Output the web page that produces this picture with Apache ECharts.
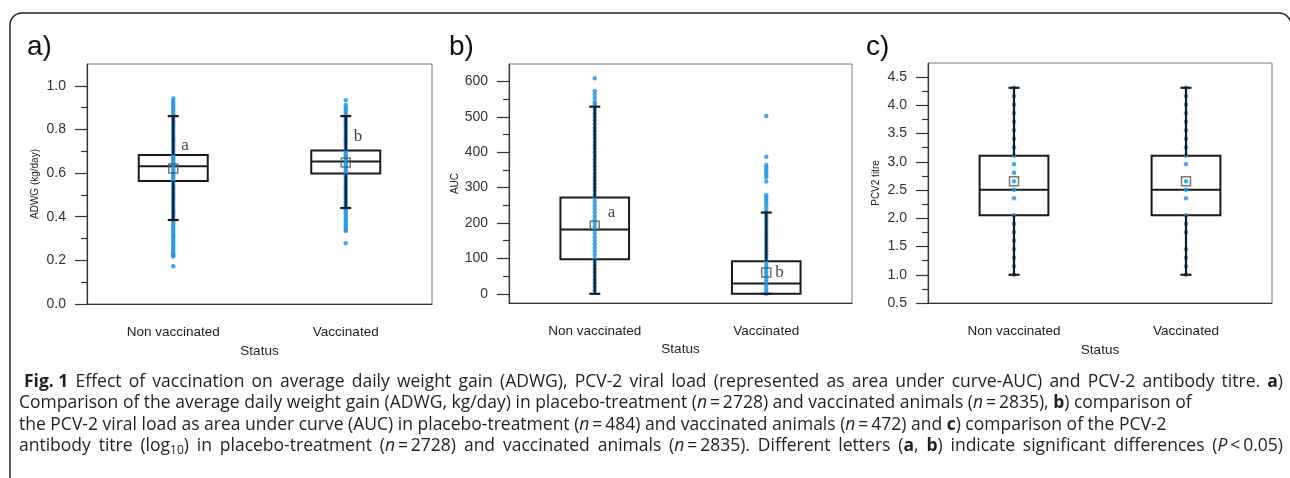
<!DOCTYPE html>
<html>
<head>
<meta charset="utf-8">
<script src="https://cdn.jsdelivr.net/npm/echarts@6/dist/echarts.min.js"></script>
<style>
html,body{margin:0;padding:0;background:#fff;}
#chart{width:1290px;height:478px;}
</style>
</head>
<body>
<div id="chart"></div>
<script>
// ---------------- DATA ----------------
const categories = ['Non vaccinated', 'Vaccinated'];

// Panel a: ADWG (kg/day)  [lowerWhisker, Q1, median, Q3, upperWhisker]
const adwgBox = [[0.385, 0.564, 0.631, 0.683, 0.861], [0.440, 0.598, 0.653, 0.703, 0.861]];
const adwgMean = [0.621, 0.648];
const adwgDotsNon = [0.173, 0.218, 0.224, 0.23, 0.24, 0.25, 0.26, 0.27, 0.28, 0.29, 0.30, 0.31, 0.32, 0.33, 0.34, 0.35, 0.36, 0.37, 0.38, 0.39, 0.40, 0.41, 0.42, 0.43, 0.44, 0.45, 0.46, 0.47, 0.48, 0.49, 0.50, 0.51, 0.52, 0.53, 0.54, 0.55, 0.56, 0.57, 0.58, 0.59, 0.60, 0.61, 0.62, 0.63, 0.64, 0.65, 0.66, 0.67, 0.68, 0.69, 0.70, 0.71, 0.72, 0.73, 0.74, 0.75, 0.76, 0.77, 0.78, 0.79, 0.80, 0.81, 0.82, 0.83, 0.84, 0.85, 0.86, 0.87, 0.88, 0.89, 0.90, 0.91, 0.92, 0.93, 0.942];
const adwgDotsVac = [0.278, 0.335, 0.34, 0.35, 0.36, 0.37, 0.38, 0.39, 0.40, 0.41, 0.42, 0.43, 0.44, 0.45, 0.46, 0.47, 0.48, 0.49, 0.50, 0.51, 0.52, 0.53, 0.54, 0.55, 0.56, 0.57, 0.58, 0.59, 0.60, 0.61, 0.62, 0.63, 0.64, 0.65, 0.66, 0.67, 0.68, 0.69, 0.70, 0.71, 0.72, 0.73, 0.74, 0.75, 0.76, 0.77, 0.78, 0.79, 0.80, 0.81, 0.82, 0.83, 0.84, 0.85, 0.86, 0.87, 0.88, 0.89, 0.90, 0.912, 0.934];
const adwgLetters = ['a', 'b'];
const adwgLetterY = [0.726, 0.768];
const adwgTicks = [0, 0.2, 0.4, 0.6, 0.8, 1.0];
const adwgMinor = [0.1, 0.3, 0.5, 0.7, 0.9];

// Panel b: AUC
const aucBox = [[0, 97.8, 181.5, 272, 528.5], [0, 0, 29, 92, 229.5]];
const aucMean = [192, 60];
const aucDotsNon = [10, 20, 30, 40, 50, 60, 70, 80, 90, 100, 110, 120, 130, 140, 150, 160, 170, 180, 190, 200, 210, 220, 230, 240, 250, 260, 270, 280, 290, 300, 310, 320, 330, 340, 350, 360, 370, 380, 390, 400, 410, 420, 430, 440, 450, 460, 470, 480, 490, 500, 510, 520, 530, 537, 542, 553, 563, 573, 609];
const aucDotsVac = [0, 8, 16, 24, 32, 40, 48, 56, 64, 72, 80, 88, 96, 104, 112, 120, 128, 136, 144, 152, 160, 168, 176, 184, 192, 200, 208, 216, 224, 232, 240, 250, 258, 265, 272, 279, 317, 329, 336, 343, 350, 357, 364, 387, 502];
const aucLetters = ['a', 'b'];
const aucLetterY = [230, 61];
const aucTicks = [0, 100, 200, 300, 400, 500, 600];
const aucMinor = [50, 150, 250, 350, 450, 550];

// Panel c: PCV2 titre
const titreBox = [[1.0, 2.054, 2.505, 3.107, 4.311], [1.0, 2.054, 2.505, 3.107, 4.311]];
const titreMean = [2.656, 2.656];
const titreDotsNon = [1.000, 1.151, 1.301, 1.452, 1.602, 1.753, 1.903, 2.054, 2.355, 2.505, 2.656, 2.806, 2.957, 3.107, 3.258, 3.408, 3.559, 3.709, 3.860, 4.010, 4.161, 4.311];
const titreDotsVac = [1.000, 1.151, 1.301, 1.452, 1.753, 1.903, 2.054, 2.355, 2.505, 2.656, 2.957, 3.107, 3.258, 3.408, 3.559, 3.709, 3.860, 4.010, 4.161, 4.311];
const titreTicks = [0.5, 1.0, 1.5, 2.0, 2.5, 3.0, 3.5, 4.0, 4.5];
const titreMinor = [0.75, 1.25, 1.75, 2.25, 2.75, 3.25, 3.75, 4.25];

const captionLines = [
  '{b|Fig. 1} Effect of vaccination on average daily weight gain (ADWG), PCV-2 viral load (represented as area under curve-AUC) and PCV-2 antibody titre. {b|a})',
  'Comparison of the average daily weight gain (ADWG, kg/day) in placebo-treatment ({i|n}\u2009=\u20092728) and vaccinated animals ({i|n}\u2009=\u20092835), {b|b}) comparison of',
  'the PCV-2 viral load as area under curve (AUC) in placebo-treatment ({i|n}\u2009=\u2009484) and vaccinated animals ({i|n}\u2009=\u2009472) and {b|c}) comparison of the PCV-2',
  'antibody titre (log{s|10}) in placebo-treatment ({i|n}\u2009=\u20092728) and vaccinated animals ({i|n}\u2009=\u20092835). Different letters ({b|a}, {b|b}) indicate significant differences ({i|P}\u2009<\u20090.05)'
];
const captionJustify = [true, false, false, true];

// ---------------- CHART ----------------
const SANS = '"Liberation Sans", Arial, sans-serif';
const CAPFONT = '"Open Sans", Lato, sans-serif';
const BLUE = '#1a94e4';
const INK = '#1a1a1a';

const panels = [
  {box: adwgBox, mean: adwgMean, non: adwgDotsNon, vac: adwgDotsVac, letters: adwgLetters, letterY: adwgLetterY,
   min: 0, max: 1.1, ticks: adwgTicks, minor: adwgMinor, name: 'ADWG (kg/day)', fmt: v => v.toFixed(1),
   grid: {left: 87, top: 64, width: 345, height: 240}, letterDist: [8, 8]},
  {box: aucBox, mean: aucMean, non: aucDotsNon, vac: aucDotsVac, letters: aucLetters, letterY: aucLetterY,
   min: -26, max: 649, ticks: aucTicks, minor: aucMinor, name: 'AUC', fmt: v => String(v),
   grid: {left: 509, top: 64, width: 343, height: 239}, letterDist: [13, 9]},
  {box: titreBox, mean: titreMean, non: titreDotsNon, vac: titreDotsVac, letters: null, letterY: null,
   min: 0.5, max: 4.75, ticks: titreTicks, minor: titreMinor, name: 'PCV2 titre', fmt: v => v.toFixed(1),
   grid: {left: 928, top: 63, width: 344, height: 240}, letterDist: [0, 0]}
];

const grids = [], xAxes = [], yAxes = [], series = [];

panels.forEach((p, gi) => {
  grids.push(Object.assign({show: true, borderColor: '#7a7a7a', borderWidth: 1, backgroundColor: 'transparent'}, p.grid));
  xAxes.push({
    type: 'category', gridIndex: gi, data: categories, boundaryGap: true,
    axisLine: {onZero: false, lineStyle: {color: '#333', width: 1.2}},
    axisTick: {alignWithLabel: true, length: 12, lineStyle: {color: '#333', width: 1.2}},
    axisLabel: {margin: 21, fontSize: 13.5, color: '#222', fontFamily: SANS},
    splitLine: {show: false},
    name: 'Status', nameLocation: 'middle', nameGap: 39,
    nameTextStyle: {fontSize: 13.5, color: '#222', fontFamily: SANS}
  });
  yAxes.push({
    type: 'value', gridIndex: gi, position: 'left', min: p.min, max: p.max,
    axisLine: {show: true, onZero: false, lineStyle: {color: '#333', width: 1.2}},
    axisTick: {show: true, length: 12, customValues: p.ticks, lineStyle: {color: '#333', width: 1.2}},
    axisLabel: {customValues: p.ticks, formatter: p.fmt, margin: 21, fontSize: 14, color: '#333', fontFamily: SANS},
    splitLine: {show: false},
    name: p.name, nameLocation: 'middle', nameGap: 47,
    nameTextStyle: {fontSize: 10, color: '#222', fontFamily: SANS}
  });
  yAxes.push({
    type: 'value', gridIndex: gi, position: 'left', min: p.min, max: p.max,
    axisLine: {show: false},
    axisTick: {show: true, length: 6, customValues: p.minor, lineStyle: {color: '#333', width: 1.2}},
    axisLabel: {show: false},
    splitLine: {show: false}
  });
  const yi = gi * 2;

  series.push({
    type: 'custom', xAxisIndex: gi, yAxisIndex: yi, z: 2, silent: true,
    data: p.box.map((b, i) => [i].concat(b)),
    encode: {x: 0, y: [1, 2, 3, 4, 5]},
    renderItem: (params, api) => {
      const c = api.value(0);
      const bw = api.size([1, 0])[0] * 0.4;
      const p1 = api.coord([c, api.value(2)]);
      const pm = api.coord([c, api.value(3)]);
      const p3 = api.coord([c, api.value(4)]);
      return {type: 'group', children: [
        {type: 'rect', shape: {x: p1[0] - bw / 2, y: p3[1], width: bw, height: p1[1] - p3[1]},
         style: {fill: 'rgba(0,0,0,0)', stroke: INK, lineWidth: 2}},
        {type: 'line', shape: {x1: pm[0] - bw / 2, y1: pm[1], x2: pm[0] + bw / 2, y2: pm[1]},
         style: {stroke: INK, lineWidth: 2}}
      ]};
    }
  });
  series.push({
    type: 'scatter', xAxisIndex: gi, yAxisIndex: yi, z: 3, silent: true,
    symbol: 'circle', symbolSize: 4.5,
    itemStyle: {color: BLUE},
    data: p.non.map(v => [0, v]).concat(p.vac.map(v => [1, v]))
  });
  series.push({
    type: 'custom', xAxisIndex: gi, yAxisIndex: yi, z: 4, silent: true,
    data: p.box.map((b, i) => [i].concat(b)),
    encode: {x: 0, y: [1, 2, 3, 4, 5]},
    renderItem: (params, api) => {
      const c = api.value(0);
      const cw = 11;
      const lo = api.coord([c, api.value(1)]);
      const q1 = api.coord([c, api.value(2)]);
      const q3 = api.coord([c, api.value(4)]);
      const hi = api.coord([c, api.value(5)]);
      const st = {stroke: INK, lineWidth: 2.2};
      const kids = [
        {type: 'line', shape: {x1: hi[0], y1: hi[1], x2: q3[0], y2: q3[1]}, style: st},
        {type: 'line', shape: {x1: hi[0] - cw / 2, y1: hi[1], x2: hi[0] + cw / 2, y2: hi[1]}, style: st},
        {type: 'line', shape: {x1: lo[0] - cw / 2, y1: lo[1], x2: lo[0] + cw / 2, y2: lo[1]}, style: st}
      ];
      if (lo[1] - q1[1] > 0.5) kids.push({type: 'line', shape: {x1: lo[0], y1: lo[1], x2: q1[0], y2: q1[1]}, style: st});
      return {type: 'group', children: kids};
    }
  });
  series.push({
    type: 'scatter', xAxisIndex: gi, yAxisIndex: yi, z: 5, silent: true,
    symbol: 'rect', symbolSize: 9,
    itemStyle: {color: 'rgba(255,255,255,0)', borderColor: '#555', borderWidth: 1.5},
    data: p.mean.map((v, i) => [i, v])
  });
  if (p.letters) {
    series.push({
      type: 'scatter', xAxisIndex: gi, yAxisIndex: yi, z: 6, silent: true,
      symbolSize: 0,
      data: p.letters.map((l, i) => ({
        value: [i, p.letterY[i]], name: l,
        label: {show: true, position: 'right', distance: p.letterDist[i], formatter: l,
                fontFamily: '"Liberation Serif", "Times New Roman", serif', fontSize: 17, color: '#111'}
      }))
    });
  }
});

// ---- caption: rich text, size fitted so line 2 spans its measured width ----
const mctx = document.createElement('canvas').getContext('2d');
function makeRich(size) {
  return {
    b: {fontWeight: 'bold', fontFamily: CAPFONT, fontSize: size, color: '#111', lineHeight: 22, verticalAlign: 'middle'},
    i: {fontStyle: 'italic', fontFamily: CAPFONT, fontSize: size, color: '#231f20', lineHeight: 22, verticalAlign: 'middle'},
    s: {fontFamily: CAPFONT, fontSize: Math.round(size * 0.66), color: '#231f20', lineHeight: 11, verticalAlign: 'bottom'}
  };
}
function measureRich(word, size) {
  const rich = makeRich(size);
  let w = 0;
  const re = /\{(\w)\|([^}]*)\}|([^{]+)/g;
  let m;
  while ((m = re.exec(word))) {
    let st = {fontSize: size};
    let txt = m[3];
    if (m[1]) { st = rich[m[1]]; txt = m[2]; }
    mctx.font = (st.fontStyle || 'normal') + ' ' + (st.fontWeight || 'normal') + ' ' + st.fontSize + 'px ' + CAPFONT;
    w += mctx.measureText(txt).width;
  }
  return w;
}
const capY = [382, 403, 425, 446];
const capX = [24, 19, 19, 19];
const capRight = 1283;
const line2Target = 1256;
let CAPSIZE = 16 * line2Target / measureRich(captionLines[1], 16);
CAPSIZE = Math.min(17.5, Math.max(14, CAPSIZE));
const capRich = makeRich(CAPSIZE);

const graphics = [
  {type: 'rect', shape: {x: 10, y: 13, width: 1281, height: 520, r: 12},
   style: {fill: 'none', stroke: '#222', lineWidth: 1.5}, silent: true, z: 0},
  {type: 'text', x: 27, y: 47, style: {text: 'a)', fontSize: 28, fontFamily: SANS, fill: '#111', verticalAlign: 'middle'}},
  {type: 'text', x: 449, y: 47, style: {text: 'b)', fontSize: 28, fontFamily: SANS, fill: '#111', verticalAlign: 'middle'}},
  {type: 'text', x: 866, y: 47, style: {text: 'c)', fontSize: 28, fontFamily: SANS, fill: '#111', verticalAlign: 'middle'}}
];
function capText(x, y, t) {
  return {type: 'text', x: x, y: y,
    style: {text: t, rich: capRich, fontFamily: CAPFONT, fontSize: CAPSIZE,
            fill: '#231f20', verticalAlign: 'middle', lineHeight: 22}};
}
captionLines.forEach((t, k) => {
  if (!captionJustify[k]) { graphics.push(capText(capX[k], capY[k], t)); return; }
  const words = t.match(/(?:\{[^}]*\}|[^ {])+/g);
  const widths = words.map(w => measureRich(w, CAPSIZE));
  const total = widths.reduce((a, b) => a + b, 0);
  const gap = (capRight - capX[k] - total) / (words.length - 1);
  let x = capX[k];
  words.forEach((wd, j) => {
    graphics.push(capText(x, capY[k], wd));
    x += widths[j] + gap;
  });
});

const chart = echarts.init(document.getElementById('chart'), null, {renderer: 'canvas'});
chart.setOption({
  backgroundColor: '#fff',
  animation: false,
  grid: grids,
  xAxis: xAxes,
  yAxis: yAxes,
  series: series,
  graphic: graphics
});
</script>
</body>
</html>
